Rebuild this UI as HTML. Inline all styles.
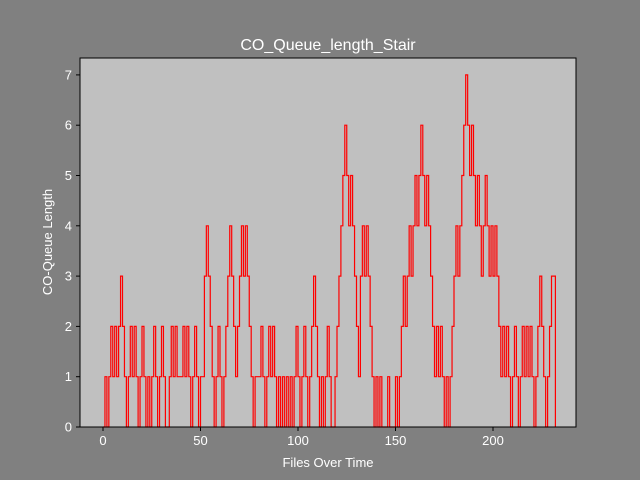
<!DOCTYPE html>
<html><head><meta charset="utf-8"><style>
html,body{margin:0;padding:0;background:#808080;overflow:hidden;width:640px;height:480px;}
svg{display:block;}
svg text{font-family:"Liberation Sans","DejaVu Sans",sans-serif;fill:#fff;}
</style></head><body>
<svg id="chart" width="640" height="480" xmlns="http://www.w3.org/2000/svg">
<rect x="0" y="0" width="640" height="480" fill="#808080"/>
<rect x="80" y="58" width="496" height="369" fill="#c0c0c0"/>
<text x="328" y="50" font-size="16" text-anchor="middle">CO_Queue_length_Stair</text>
<text x="328" y="467" font-size="13" text-anchor="middle">Files Over Time</text>
<text x="52" y="242" font-size="13" text-anchor="middle" transform="rotate(-90 52 242)">CO-Queue Length</text>
<g id="ticks"></g>
<path id="series" fill="none" stroke="#ff0000" stroke-width="1.2"/>
<rect x="80" y="58" width="496" height="369" fill="none" stroke="#000" stroke-width="1"/>
</svg>
<script>
const xTicks = [0, 50, 100, 150, 200];
const yTicks = [0, 1, 2, 3, 4, 5, 6, 7];
const queueValues = [0,1,0,1,2,1,2,1,2,3,2,1,0,1,2,1,2,1,0,1,2,1,0,1,0,1,2,1,0,1,2,1,0,0,1,2,1,2,1,
1,1,2,1,2,1,0,1,2,1,0,1,1,3,4,3,2,1,0,1,2,1,0,1,2,3,4,3,2,1,2,3,4,3,4,3,2,1,0,1,
1,1,2,1,0,1,2,1,2,1,0,1,0,1,0,1,0,1,0,1,2,1,0,1,2,1,0,1,2,3,2,1,0,1,0,1,2,1,0,0,
1,2,3,4,5,6,5,4,5,4,3,2,1,3,4,3,4,3,2,1,0,1,0,1,0,0,0,1,0,0,0,1,0,1,2,3,2,3,4,3,
4,5,4,5,6,5,4,5,4,3,2,1,2,1,2,1,0,1,0,1,2,3,4,3,4,5,6,7,6,5,6,5,4,5,4,3,4,5,4,3,
4,3,4,3,2,1,2,1,2,1,0,1,2,1,0,1,2,1,2,1,2,1,0,1,2,3,2,1,0,1,2,3,3];
const X0=103, XS=1.95, Y0=427, YS=50.3;
function sx(v){return X0+v*XS;}
function sy(v){return Y0-v*YS;}
const NS="http://www.w3.org/2000/svg";
const g=document.getElementById('ticks');
xTicks.forEach(t=>{
  const l=document.createElementNS(NS,'line');
  
  
  l.setAttribute('x1',sx(t));l.setAttribute('x2',sx(t));l.setAttribute('y1',427);l.setAttribute('y2',431);l.setAttribute('stroke','#000');
  g.appendChild(l);
  const tx=document.createElementNS(NS,'text');
  
  
  tx.setAttribute('x',sx(t));tx.setAttribute('y',445);tx.setAttribute('font-size','13');tx.setAttribute('text-anchor','middle');
  tx.textContent=t;g.appendChild(tx);
});
yTicks.forEach(t=>{
  const l=document.createElementNS(NS,'line');
  
  
  l.setAttribute('x1',76);l.setAttribute('x2',80);l.setAttribute('y1',sy(t));l.setAttribute('y2',sy(t));l.setAttribute('stroke','#000');
  g.appendChild(l);
  const tx=document.createElementNS(NS,'text');
  
  
  tx.setAttribute('x',72);tx.setAttribute('y',sy(t)+4.5);tx.setAttribute('font-size','13');tx.setAttribute('text-anchor','end');
  tx.textContent=t;g.appendChild(tx);
});
let d='M'+sx(0)+' '+sy(queueValues[0]);
queueValues.forEach((v,i)=>{
  d+=' L'+sx(i)+' '+sy(v)+' L'+sx(i+1)+' '+sy(v);
});
d+=' L'+sx(queueValues.length)+' '+sy(0);
document.getElementById('series').setAttribute('d',d);
</script>
</body></html>
